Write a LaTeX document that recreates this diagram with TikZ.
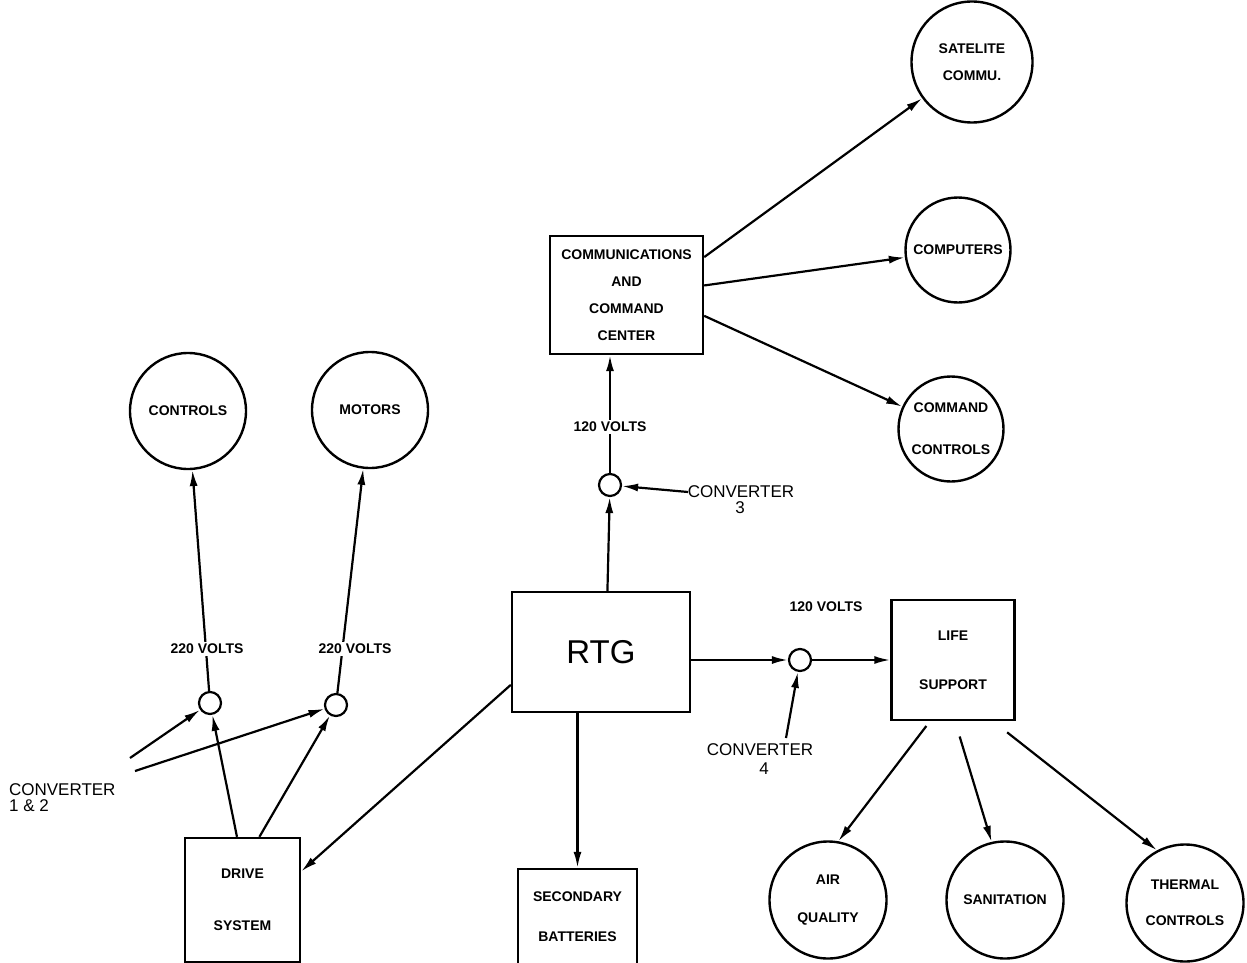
\documentclass[tikz,border=0pt]{standalone}
\usepackage{fontspec}
\setmainfont{Liberation Sans}
\usetikzlibrary{arrows.meta,calc}
\begin{document}
\begin{tikzpicture}[x=1pt,y=-1pt,
 line width=2.2pt,
 arr/.style={-{Latex[length=16pt,width=8pt]}},
 circ/.style={draw, circle, line width=2.4pt, inner sep=0pt, align=center},
 box/.style={draw, rectangle, line width=2.4pt, inner sep=0pt, align=center},
 smallc/.style={draw, circle, minimum size=22pt, inner sep=0pt, line width=2.2pt},
 lbl/.style={font=\bfseries\fontsize{14}{15}\selectfont, inner sep=2pt},
 conv/.style={font=\fontsize{17}{17}\selectfont, inner sep=1pt}
]
\useasboundingbox (0,0) rectangle (1247,963);

% circles top right
\node[circ, minimum size=121pt, font=\bfseries\fontsize{14}{27}\selectfont] (sat) at (972,62) {SATELITE\\COMMU.};
\node[circ, minimum size=105pt, font=\bfseries\fontsize{14}{15}\selectfont] (comp) at (958,250) {COMPUTERS};
\node[circ, minimum size=105pt, font=\bfseries\fontsize{14}{42}\selectfont] (cmd) at (951,429) {COMMAND\\CONTROLS};

% communications center
\node[box, minimum width=153pt, minimum height=118pt, font=\bfseries\fontsize{14}{27}\selectfont] (cc) at (626.5,295) {COMMUNICATIONS\\AND\\COMMAND\\CENTER};

% left circles
\node[circ, minimum size=116pt, font=\bfseries\fontsize{14}{15}\selectfont] (ctl) at (188,411) {CONTROLS};
\node[circ, minimum size=116pt, font=\bfseries\fontsize{14}{15}\selectfont] (mot) at (370,410) {MOTORS};

% converters (small circles)
\node[smallc] (c3) at (610,485) {};
\node[smallc] (c4) at (800,660) {};
\node[smallc] (c1) at (210,703) {};
\node[smallc] (c2) at (336,705) {};

% RTG
\node[box, minimum width=178pt, minimum height=120pt, font=\fontsize{33}{33}\selectfont] (rtg) at (601,652) {RTG};

% life support
\node[box, minimum width=123pt, minimum height=120pt, font=\bfseries\fontsize{14}{49}\selectfont] (ls) at (953,660) {LIFE\\SUPPORT};

% drive system and batteries
\node[box, minimum width=115pt, minimum height=124pt, font=\bfseries\fontsize{14}{52}\selectfont] (drv) at (242.5,900) {DRIVE\\SYSTEM};
\node[box, minimum width=119pt, minimum height=96pt, font=\bfseries\fontsize{14}{40}\selectfont] (sb) at (577.5,917) {SECONDARY\\BATTERIES};

% bottom right circles
\node[circ, minimum size=117pt, font=\bfseries\fontsize{14}{38}\selectfont] (aq) at (828,900) {AIR\\QUALITY};
\node[circ, minimum size=117pt, font=\bfseries\fontsize{14}{15}\selectfont] (san) at (1005,900) {SANITATION};
\node[circ, minimum size=117pt, font=\bfseries\fontsize{14}{36}\selectfont] (th) at (1185,903) {THERMAL\\CONTROLS};

% converter labels
\node[conv] (cv3) at (741,492) {CONVERTER};
\node[conv] (cv3n) at (740,508) {3};
\node[conv] (cv4) at (760,750) {CONVERTER};
\node[conv] (cv4n) at (764,769) {4};
\node[conv, anchor=west] (cv12) at (7,790) {CONVERTER};
\node[conv, anchor=west] (cv12n) at (7,806) {1 \& 2};
\node[lbl] (v4) at (826,607) {120 VOLTS};

\coordinate (s3) at (688,492);
\coordinate (s4) at (786,738);
\coordinate (s1) at (130,758);
\coordinate (s2) at (135,771);

% connectors
\draw[arr] (cc.26) -- (sat);
\draw[arr] (cc.7) -- (comp);
\draw[arr] (cc.-15) -- (cmd);
\draw[arr] (c3) -- node[lbl, fill=white, pos=0.39] (v3) {120 VOLTS} (c3 |- cc.south);
\draw[arr] (rtg.84) -- (c3);
\draw[arr] (s3) -- (c3);
\draw[arr] (rtg.east |- c4) -- (c4);
\draw[arr] (c4) -- (ls.west |- c4);
\draw[arr] (s4) -- (c4);
\draw[arr, shorten <=6pt] ($(ls.south)+(-23,0)$) -- (aq.80);
\draw[arr, shorten <=16pt] ($(ls.south)+(2,0)$) -- (san.103);
\draw[arr, shorten <=18pt] ($(ls.south)+(40,0)$) -- (th.118);
\draw[arr] (rtg.south -| sb) -- (sb.north);
\draw[arr] (rtg.200) -- (drv.26);
\draw[arr] (drv.95) -- (c1);
\draw[arr] (drv.75) -- (c2);
\draw[arr] (s1) -- (c1);
\draw[arr] (s2) -- (c2);
\draw[arr] (c1) -- (ctl);
\draw[arr] (c2) -- (mot);
\node[lbl, fill=white] (v1) at (207,649) {220 VOLTS};
\node[lbl, fill=white] (v2) at (355,649) {220 VOLTS};
\end{tikzpicture}
\end{document}
